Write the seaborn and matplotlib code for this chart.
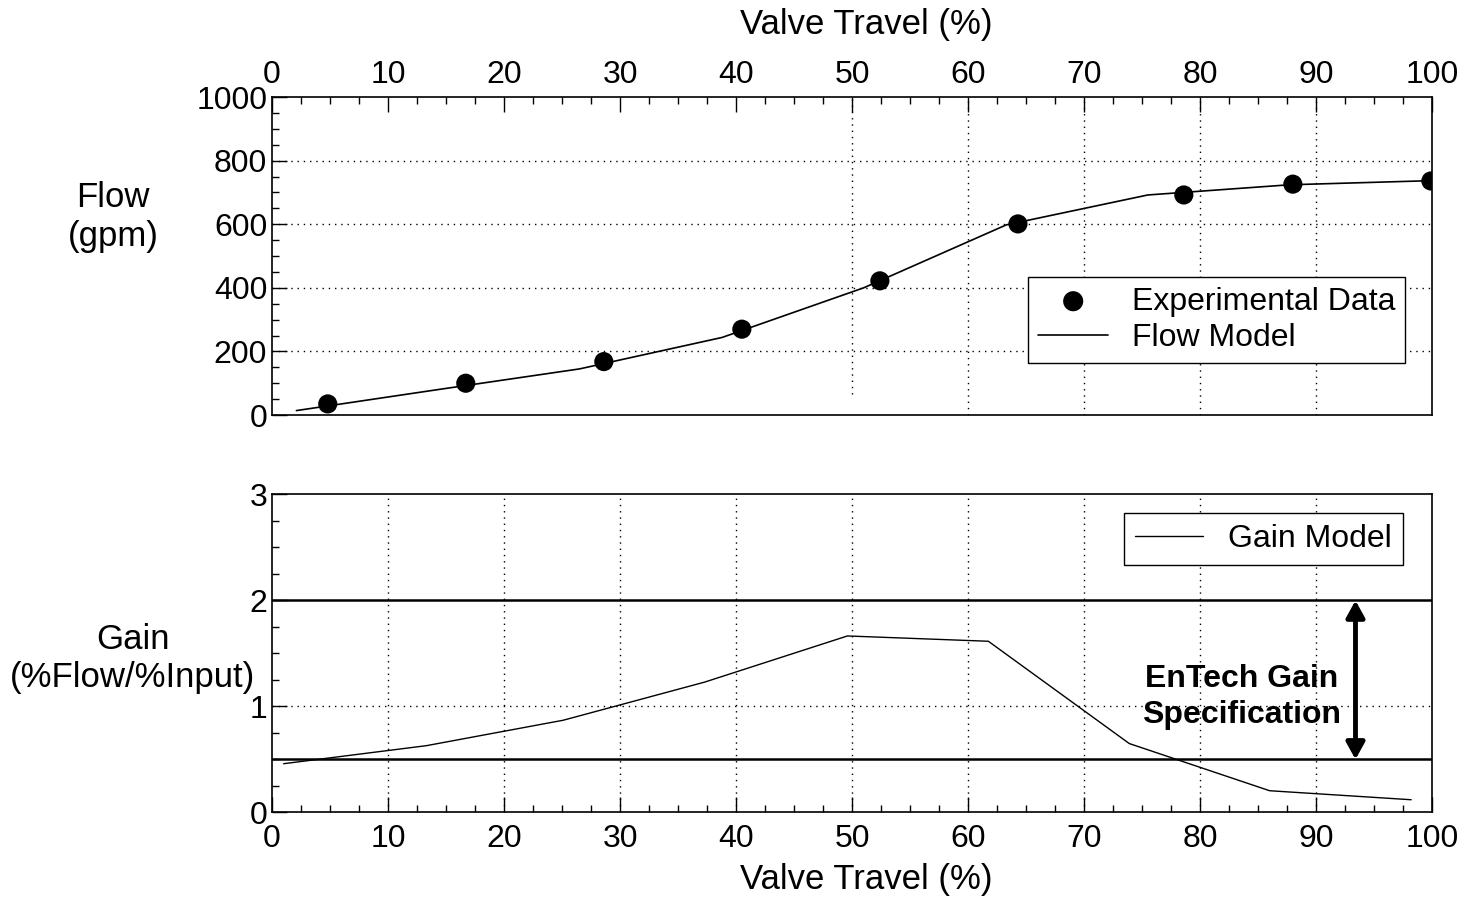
import numpy as np
import pandas as pd
import seaborn as sb
import matplotlib.pyplot as plt
from matplotlib.ticker import MultipleLocator

# experimental flow data
exp_travel = [4.8, 16.7, 28.6, 40.5, 52.4, 64.3, 78.6, 88.0, 99.9]
exp_flow = [35, 100, 168, 270, 422, 601, 692, 726, 736]

# flow model
model_travel = [2.1, 14.3, 26.5, 38.8, 51.0, 63.3, 75.5, 87.7, 99.9]
model_flow = [14, 80, 145, 244, 400, 598, 692, 724, 737]

# gain model
gain_travel = [1.0, 13.3, 25.1, 37.3, 49.6, 61.75, 73.9, 86.0, 98.2]
gain_value = [0.46, 0.63, 0.87, 1.23, 1.665, 1.615, 0.65, 0.205, 0.12]

spec_low, spec_high = 0.5, 2.0

sb.set_style("white")
plt.rcParams['font.family'] = ['Liberation Sans', 'DejaVu Sans']
plt.rcParams['text.color'] = 'black'
plt.rcParams['axes.labelcolor'] = 'black'
plt.rcParams['xtick.color'] = 'black'
plt.rcParams['ytick.color'] = 'black'

exp_df = pd.DataFrame({"travel": exp_travel, "flow": exp_flow})
model_df = pd.DataFrame({"travel": model_travel, "flow": model_flow})
gain_df = pd.DataFrame({"travel": gain_travel, "gain": gain_value})

fig = plt.figure(figsize=(14.73, 9.17), dpi=100)
ax1 = fig.add_axes([0.1847, 0.5474, 0.7875, 0.3468])
ax2 = fig.add_axes([0.1847, 0.1140, 0.7875, 0.3468])

dots = (0, (1, 3.5))
tick_fs = 23
label_fs = 25

def style_axes(ax):
    for s in ax.spines.values():
        s.set_color("black")
        s.set_linewidth(1.2)
        s.set_visible(True)
    ax.set_xlim(0, 100)
    ax.xaxis.set_major_locator(MultipleLocator(10))
    ax.xaxis.set_minor_locator(MultipleLocator(2.5))
    ax.tick_params(which="major", direction="in", length=11, width=1, labelsize=tick_fs)
    ax.tick_params(which="minor", direction="in", length=5, width=1)

# ---- top: flow ----
style_axes(ax1)
sb.lineplot(data=model_df, x="travel", y="flow", ax=ax1, color="black", lw=1.2,
            label="Flow Model", zorder=3)
sb.scatterplot(data=exp_df, x="travel", y="flow", ax=ax1, color="black", s=190,
               edgecolor="none", label="Experimental Data", zorder=4)
ax1.set_ylim(0, 1000)
ax1.yaxis.set_major_locator(MultipleLocator(200))
ax1.yaxis.set_minor_locator(MultipleLocator(50))
ax1.xaxis.tick_top()
ax1.xaxis.set_label_position("top")
ax1.tick_params(axis="x", which="both", top=True, bottom=False, pad=5)
ax1.tick_params(axis="y", which="both", left=True, right=False)
for yv in [200, 400, 600, 800]:
    ax1.axhline(yv, color="black", lw=1, ls=dots, zorder=1)
ax1.axvline(50, ymin=0.065, color="black", lw=1, ls=dots, zorder=1)
for xv in [60, 70, 80, 90]:
    ax1.axvline(xv, color="black", lw=1, ls=dots, zorder=1)
ax1.set_xlabel("Valve Travel (%)", fontsize=label_fs, va="center")
ax1.xaxis.set_label_coords(0.512, 1.228)
ax1.set_ylabel("Flow\n(gpm)", fontsize=label_fs, rotation=0, ha="center", va="center")
ax1.yaxis.set_label_coords(-0.137, 0.623)
h, l = ax1.get_legend_handles_labels()
leg1 = ax1.legend([h[1], h[0]], [l[1], l[0]], loc="upper right",
                  bbox_to_anchor=(0.977, 0.434), borderaxespad=0, fancybox=False,
                  framealpha=1, edgecolor="black", fontsize=tick_fs, handlelength=2.2,
                  handletextpad=0.75, labelspacing=0.2, borderpad=0.3, markerscale=1.05)
leg1.get_frame().set_linewidth(1)

# ---- bottom: gain ----
style_axes(ax2)
sb.lineplot(data=gain_df, x="travel", y="gain", ax=ax2, color="black", lw=1,
            label="Gain Model", zorder=3)
ax2.set_ylim(0, 3)
ax2.yaxis.set_major_locator(MultipleLocator(1))
ax2.yaxis.set_minor_locator(MultipleLocator(0.25))
ax2.tick_params(axis="x", which="both", bottom=True, top=False, pad=8)
ax2.tick_params(axis="y", which="both", left=True, right=False)
for xv in range(10, 100, 10):
    ax2.axvline(xv, color="black", lw=1, ls=dots, zorder=1)
ax2.axhline(1, color="black", lw=1, ls=dots, zorder=1)
ax2.axhline(spec_high, color="black", lw=1.8, zorder=2)
ax2.axhline(spec_low, color="black", lw=1.8, zorder=2)
ax2.annotate("", xy=(93.4, spec_high), xytext=(93.4, spec_low),
             arrowprops=dict(arrowstyle="<|-|>,head_length=1.0,head_width=0.55",
                             color="black", lw=3.5, shrinkA=0, shrinkB=0,
                             mutation_scale=10))
ax2.text(83.6, 1.09, "EnTech Gain\nSpecification", ha="center", va="center",
         fontsize=23, fontweight="bold", linespacing=1.25)
ax2.set_xlabel("Valve Travel (%)", fontsize=label_fs, va="center")
ax2.xaxis.set_label_coords(0.512, -0.212)
ax2.set_ylabel("Gain\n(%Flow/%Input)", fontsize=label_fs, rotation=0, ha="center", va="center")
ax2.yaxis.set_label_coords(-0.120, 0.483)
leg2 = ax2.legend(loc="upper right", bbox_to_anchor=(0.975, 0.942), borderaxespad=0,
                  fancybox=False, framealpha=1, edgecolor="black", fontsize=tick_fs,
                  handlelength=2.1, handletextpad=0.8, borderpad=0.35)
leg2.get_frame().set_linewidth(1)

fig.savefig("out.png", dpi=100)
